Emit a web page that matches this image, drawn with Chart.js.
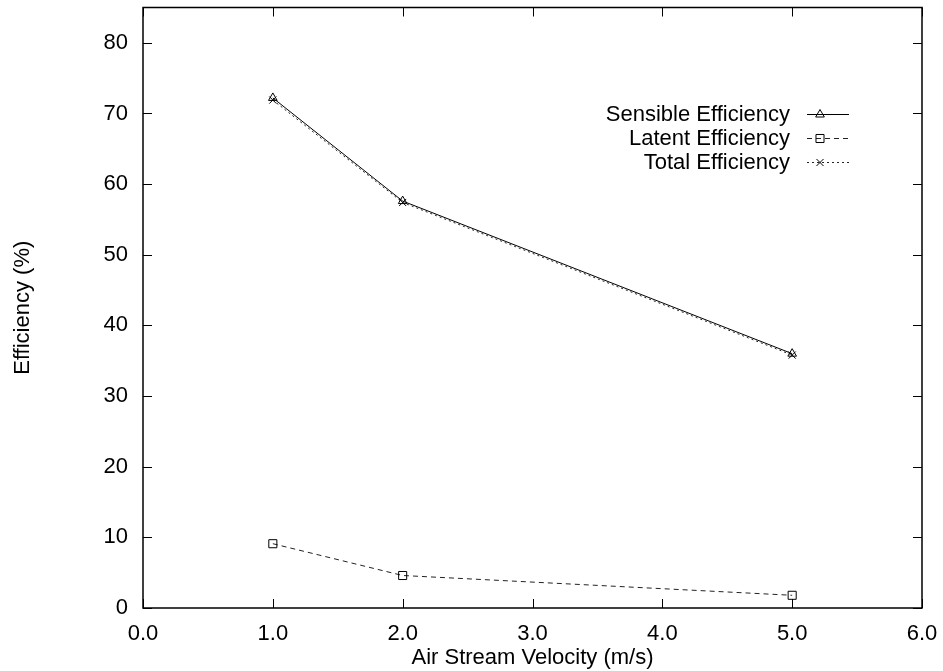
<!DOCTYPE html>
<html lang="en">
<head>
  <meta charset="UTF-8">
  <title>Efficiency vs Air Stream Velocity</title>
  <style>
    body {
      margin: 0;
      background-color: white;
    }
    .container {
      width: 943px;
      height: 671px;
    }
  </style>
  <script src="https://cdn.jsdelivr.net/npm/chart.js"></script>
</head>
<body>
  <div class="container">
    <canvas id="effChart" width="943" height="671"></canvas>
  </div>

  <script>
    const velocities = [1.0, 2.0, 5.0];
    const sensibleEff = [72.2, 57.6, 36.0];
    const latentEff = [9.1, 4.6, 1.8];
    const totalEff = [71.9, 57.4, 35.8];

    const xTickValues = [0, 1, 2, 3, 4, 5, 6];
    const yTickValues = [0, 10, 20, 30, 40, 50, 60, 70, 80];

    const seriesNames = ['Sensible Efficiency', 'Latent Efficiency', 'Total Efficiency'];

    const FONT = "'Liberation Sans', Arial, sans-serif";

    const toPoints = (ys) => velocities.map((v, i) => ({ x: v, y: ys[i] }));

    // box, inward ticks on all four sides and the key
    const framePlugin = {
      id: 'frame',
      afterDraw(chart) {
        const { ctx, chartArea: a, scales } = chart;
        const tl = 9;
        ctx.save();
        ctx.strokeStyle = '#000';
        ctx.lineWidth = 1;
        ctx.setLineDash([]);
        ctx.beginPath();
        xTickValues.forEach(v => {
          const px = Math.round(scales.x.getPixelForValue(v)) + 0.5;
          ctx.moveTo(px, a.bottom); ctx.lineTo(px, a.bottom - tl);
          ctx.moveTo(px, a.top); ctx.lineTo(px, a.top + tl);
        });
        yTickValues.forEach(v => {
          const py = Math.round(scales.y.getPixelForValue(v)) + 0.5;
          ctx.moveTo(a.left, py); ctx.lineTo(a.left + tl, py);
          ctx.moveTo(a.right, py); ctx.lineTo(a.right - tl, py);
        });
        ctx.stroke();

        ctx.lineWidth = 1.5;
        ctx.strokeRect(a.left, a.top, a.right - a.left, a.bottom - a.top);

        // key
        const textRight = 790;
        const lineL = 807, lineR = 849, markX = 820;
        const rowY = [114, 138, 162];
        ctx.font = '22px ' + FONT;
        ctx.textAlign = 'right';
        ctx.textBaseline = 'middle';
        chart.data.datasets.forEach((ds, i) => {
          const y = rowY[i];
          ctx.fillStyle = '#000';
          ctx.fillText(ds.label, textRight, y + 1);
          ctx.lineWidth = 1;
          ctx.strokeStyle = ds.borderColor;
          ctx.setLineDash(ds.borderDash || []);
          ctx.beginPath();
          ctx.moveTo(lineL, y + 0.5);
          ctx.lineTo(lineR, y + 0.5);
          ctx.stroke();
          ctx.setLineDash([]);
          ctx.strokeStyle = '#000';
          ctx.fillStyle = 'rgba(0,0,0,0)';
          Chart.helpers.drawPoint(ctx, {
            pointStyle: ds.pointStyle,
            radius: ds.pointRadius,
            borderWidth: 1,
            rotation: 0
          }, markX, y + 0.5);
        });
        ctx.restore();
      }
    };

    const ctx = document.getElementById('effChart').getContext('2d');
    const effChart = new Chart(ctx, {
      type: 'scatter',
      data: {
        datasets: [
          {
            label: seriesNames[0],
            data: toPoints(sensibleEff),
            showLine: true,
            borderColor: '#000',
            borderWidth: 1,
            pointStyle: 'triangle',
            pointRadius: 5,
            pointBorderColor: '#000',
            pointBackgroundColor: 'rgba(0,0,0,0)',
            pointBorderWidth: 1
          },
          {
            label: seriesNames[1],
            data: toPoints(latentEff),
            showLine: true,
            borderColor: '#222',
            borderWidth: 1,
            borderDash: [5, 4],
            pointStyle: 'rect',
            pointRadius: 5.7,
            pointBorderColor: '#000',
            pointBackgroundColor: 'rgba(0,0,0,0)',
            pointBorderWidth: 1
          },
          {
            label: seriesNames[2],
            data: toPoints(totalEff),
            showLine: true,
            borderColor: '#222',
            borderWidth: 1,
            borderDash: [2, 3],
            pointStyle: 'crossRot',
            pointRadius: 5,
            pointBorderColor: '#000',
            pointBackgroundColor: 'rgba(0,0,0,0)',
            pointBorderWidth: 1
          }
        ]
      },
      options: {
        responsive: false,
        animation: false,
        layout: {
          padding: { top: 7.5, right: 21, left: 0, bottom: 0 }
        },
        plugins: {
          legend: { display: false },
          tooltip: { enabled: false }
        },
        scales: {
          x: {
            type: 'linear',
            min: 0,
            max: 6,
            afterBuildTicks: (scale) => {
              scale.ticks = xTickValues.map(v => ({ value: v }));
            },
            afterFit: (scale) => {
              scale.height = 63;
              scale.paddingLeft = 0;
              scale.paddingRight = 0;
            },
            grid: { display: false, drawTicks: false },
            border: { display: false },
            ticks: {
              color: '#000',
              font: { family: FONT, size: 22 },
              padding: 13,
              maxRotation: 0,
              callback: (v) => Number(v).toFixed(1)
            },
            title: {
              display: true,
              text: 'Air Stream Velocity (m/s)',
              color: '#000',
              font: { family: FONT, size: 22 },
              padding: { top: 0, bottom: 0 }
            }
          },
          y: {
            type: 'linear',
            min: 0,
            max: 85,
            afterBuildTicks: (scale) => {
              scale.ticks = yTickValues.map(v => ({ value: v }));
            },
            afterFit: (scale) => {
              scale.width = 143;
              scale.paddingTop = 0;
              scale.paddingBottom = 0;
            },
            grid: { display: false, drawTicks: false },
            border: { display: false },
            ticks: {
              color: '#000',
              font: { family: FONT, size: 22 },
              padding: 15
            },
            title: {
              display: true,
              text: 'Efficiency (%)',
              color: '#000',
              font: { family: FONT, size: 22 },
              padding: { top: 10, bottom: 0 }
            }
          }
        }
      },
      plugins: [framePlugin]
    });
  </script>
</body>
</html>
